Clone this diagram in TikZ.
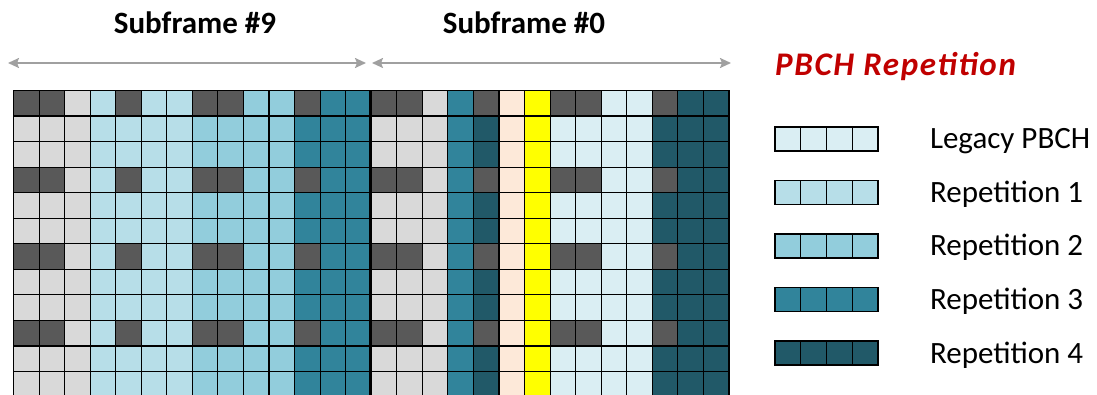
\documentclass[tikz,border=0pt]{standalone}
\usepackage{fontspec}
\setmainfont{Carlito}
\usetikzlibrary{arrows.meta,positioning}
\definecolor{dgray}{HTML}{595959}
\definecolor{lgray}{HTML}{D9D9D9}
\definecolor{legacy}{HTML}{DAEEF3}
\definecolor{rep1}{HTML}{B7DEE8}
\definecolor{rep2}{HTML}{92CDDC}
\definecolor{rep3}{HTML}{31849B}
\definecolor{rep4}{HTML}{215968}
\definecolor{peach}{HTML}{FDE9D9}
\definecolor{yell}{HTML}{FFFF00}
\definecolor{titlered}{HTML}{C00000}
\definecolor{arrgray}{HTML}{A0A0A0}
\tikzset{
  cell/.style     ={draw=black,line width=1.1pt},
  divider/.style  ={draw=black,line width=2.4pt},
  dimarr/.style   ={{Stealth[length=11pt,width=10pt,inset=2pt]}-{Stealth[length=11pt,width=10pt,inset=2pt]},
                    draw=arrgray,line width=2pt},
  sflabel/.style  ={anchor=base,inner sep=0pt,font=\bfseries\fontsize{31}{37}\selectfont},
  legtitle/.style ={anchor=base west,inner sep=0pt,text=titlered,
                    font=\bfseries\itshape\fontsize{33}{39}\selectfont\addfontfeature{LetterSpace=5}},
  legbox/.style   ={draw=black,line width=1.2pt,minimum width=103pt,minimum height=24pt,
                    inner sep=0pt,outer sep=0pt,
                    path picture={\foreach \k in {1,2,3}{
                      \draw[line width=1.2pt] ([xshift=\k*25.75pt]path picture bounding box.north west)
                        -- ([xshift=\k*25.75pt]path picture bounding box.south west);}}},
  leglabel/.style ={inner sep=0pt,outer sep=0pt,text height=20pt,text depth=0pt,
                    font=\fontsize{31}{37}\selectfont}
}
\begin{document}
\begin{tikzpicture}[x=1pt,y=-1pt,node distance=29.5pt and 52pt]
  \useasboundingbox (0,0) rectangle (1097,395);

  % Resource grid (columns: symbols, rows: subcarriers)
  \begin{scope}
    \clip (0,0) rectangle (1097,395);
    \foreach \c/\base/\crs in {0/lgray/1,1/lgray/1,2/lgray/0,3/rep1/0,4/rep1/1,5/rep1/0,6/rep1/0,
                               7/rep2/1,8/rep2/1,9/rep2/0,10/rep2/0,11/rep3/1,12/rep3/0,13/rep3/0,
                               14/lgray/1,15/lgray/1,16/lgray/0,17/rep3/0,18/rep4/1,19/peach/0,20/yell/0,
                               21/legacy/1,22/legacy/1,23/legacy/0,24/legacy/0,25/rep4/1,26/rep4/0,27/rep4/0}{
      \foreach \r in {0,...,11}{
        \pgfmathtruncatemacro{\dark}{\crs*(mod(\r,3)==0)}
        \ifnum\dark=1 \def\fc{dgray}\else\def\fc{\base}\fi
        \draw[cell,fill=\fc] (13.5+\c*25.55,90.5+\r*25.55) rectangle ++(25.55,25.55);
      }
    }
    \draw[divider] (370.2,90.5) -- (370.2,400);
    \draw[divider] (728.9,90.5) -- (728.9,400);
  \end{scope}

  % Subframe labels and spans
  \node (sf9) [sflabel] at (195,34) {Subframe \#9};
  \node (sf0) [sflabel] at (524,34) {Subframe \#0};
  \coordinate (sf9w) at (8,63);
  \coordinate (sf9e) at (366,63);
  \coordinate (sf0w) at (372,63);
  \coordinate (sf0e) at (731,63);
  \draw[dimarr] (sf9w) -- (sf9e);
  \draw[dimarr] (sf0w) -- (sf0e);

  % Legend
  \node (title) [legtitle] at (775,75.5) {PBCH Repetition};
  \node (leg0) [legbox,fill=legacy] at (826.5,139) {};
  \node (leg1) [legbox,fill=rep1,below=of leg0] {};
  \node (leg2) [legbox,fill=rep2,below=of leg1] {};
  \node (leg3) [legbox,fill=rep3,below=of leg2] {};
  \node (leg4) [legbox,fill=rep4,below=of leg3] {};
  \node (lab0) [leglabel,right=of leg0] {Legacy PBCH};
  \node (lab1) [leglabel,right=of leg1] {Repetition 1};
  \node (lab2) [leglabel,right=of leg2] {Repetition 2};
  \node (lab3) [leglabel,right=of leg3] {Repetition 3};
  \node (lab4) [leglabel,right=of leg4] {Repetition 4};
\end{tikzpicture}
\end{document}
